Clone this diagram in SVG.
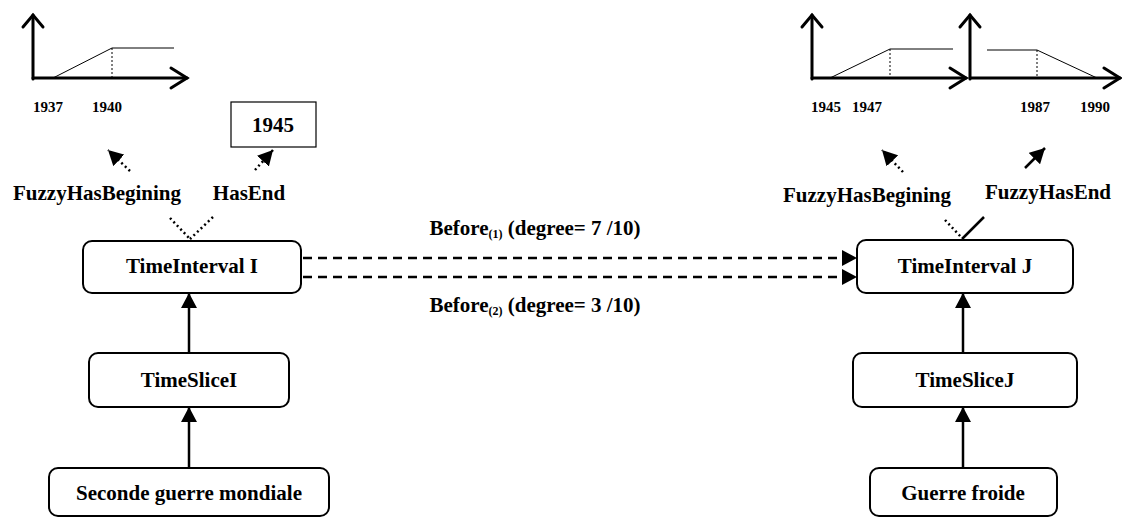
<svg xmlns="http://www.w3.org/2000/svg" width="1122" height="519" viewBox="0 0 1122 519">
<style>
text{font-family:"Liberation Serif","Times New Roman",serif;font-weight:bold;fill:#000;text-anchor:middle}
.lbl{font-size:21px}
.ax{font-size:15px}
.box{fill:#fff;stroke:#000;stroke-width:2}
.axis{fill:none;stroke:#000;stroke-width:3;stroke-linecap:round;stroke-linejoin:miter}
.thin{fill:none;stroke:#000;stroke-width:1}
.dot1{fill:none;stroke:#000;stroke-width:1;stroke-dasharray:2,2}
.conn{fill:none;stroke:#000;stroke-width:2.5}
.dash{stroke-dasharray:9,6}
.dotted{stroke-dasharray:2,3;stroke-width:2.5}
</style>
<defs>
<marker id="arr" viewBox="0 0 15 16" refX="15" refY="8" markerWidth="15" markerHeight="16" markerUnits="userSpaceOnUse" orient="auto">
<path d="M0,0 L15,8 L0,16 z" fill="#000"/>
</marker>
</defs>

<g id="chart-I">
<polyline class="axis" points="33,79 33,15"/>
<polyline class="axis" points="23,27 33,15 43,27"/>
<polyline class="axis" points="33,78 187,78"/>
<polyline class="axis" points="171,68 187,78 171,88"/>
<polyline class="thin" points="53,78 112,48 174,48"/>
<line class="dot1" x1="112" y1="48" x2="112" y2="78"/>
<text class="ax" x="48" y="112">1937</text>
<text class="ax" x="107" y="112">1940</text>
</g>

<g id="end-I">
<rect x="231" y="102" width="85" height="45" fill="#fff" stroke="#000" stroke-width="1.2"/>
<text class="lbl" x="273" y="132">1945</text>
</g>

<g id="chart-J1">
<polyline class="axis" points="812,79 812,15"/>
<polyline class="axis" points="802,27 812,15 822,27"/>
<polyline class="axis" points="812,78 966,78"/>
<polyline class="axis" points="950,68 966,78 950,88"/>
<polyline class="thin" points="830,78 890,49 953,49"/>
<line class="dot1" x1="890" y1="49" x2="890" y2="78"/>
<text class="ax" x="826" y="112">1945</text>
<text class="ax" x="867" y="112">1947</text>
</g>

<g id="chart-J2">
<polyline class="axis" points="970,79 970,15"/>
<polyline class="axis" points="960,27 970,15 980,27"/>
<polyline class="axis" points="970,78 1120,78"/>
<polyline class="axis" points="1104,68 1120,78 1104,88"/>
<polyline class="thin" points="987,50 1037,50 1097,78"/>
<line class="dot1" x1="1037" y1="50" x2="1037" y2="78"/>
<text class="ax" x="1035" y="112">1987</text>
<text class="ax" x="1095" y="112">1990</text>
</g>

<g id="ti-I">
<rect class="box" x="83" y="241" width="218" height="52" rx="9"/>
<text class="lbl" x="192" y="273">TimeInterval I</text>
</g>
<g id="ts-I">
<rect class="box" x="89" y="353" width="200" height="54" rx="9"/>
<text class="lbl" x="189" y="387">TimeSliceI</text>
</g>
<g id="sgm">
<rect class="box" x="49" y="468" width="280" height="48" rx="9"/>
<text class="lbl" x="189" y="500">Seconde guerre mondiale</text>
</g>

<g id="ti-J">
<rect class="box" x="857" y="240" width="216" height="53" rx="9"/>
<text class="lbl" x="965" y="273">TimeInterval J</text>
</g>
<g id="ts-J">
<rect class="box" x="853" y="353" width="224" height="54" rx="9"/>
<text class="lbl" x="965" y="387">TimeSliceJ</text>
</g>
<g id="gf">
<rect class="box" x="870" y="468" width="187" height="48" rx="9"/>
<text class="lbl" x="963" y="500">Guerre froide</text>
</g>

<g id="connectors">
<line class="conn" x1="189" y1="353" x2="189" y2="293" marker-end="url(#arr)"/>
<line class="conn" x1="189" y1="468" x2="189" y2="407" marker-end="url(#arr)"/>
<line class="conn" x1="963" y1="353" x2="963" y2="293" marker-end="url(#arr)"/>
<line class="conn" x1="963" y1="468" x2="963" y2="407" marker-end="url(#arr)"/>
<line class="conn dash" x1="303" y1="258" x2="857" y2="258" marker-end="url(#arr)"/>
<line class="conn dash" x1="303" y1="277" x2="857" y2="277" marker-end="url(#arr)"/>
<line class="conn dotted" x1="170" y1="218" x2="190" y2="239"/>
<line class="conn dotted" x1="213" y1="217" x2="190" y2="239"/>
<line class="conn dotted" x1="130" y1="171" x2="108" y2="150" marker-end="url(#arr)"/>
<line class="conn dotted" x1="255" y1="170" x2="273" y2="150" marker-end="url(#arr)"/>
<line class="conn dotted" x1="945" y1="220" x2="962" y2="238"/>
<line class="conn" x1="984" y1="217" x2="962" y2="239"/>
<line class="conn dotted" x1="903" y1="172" x2="882" y2="150" marker-end="url(#arr)"/>
<line class="conn" x1="1025" y1="168" x2="1045" y2="148" marker-end="url(#arr)"/>
<text class="lbl" x="97" y="200">FuzzyHasBegining</text>
<text class="lbl" x="249" y="200">HasEnd</text>
<text class="lbl" x="867" y="202">FuzzyHasBegining</text>
<text class="lbl" x="1048" y="199">FuzzyHasEnd</text>
<text class="lbl" x="535" y="235">Before<tspan font-size="12" dy="3">(1)</tspan><tspan dy="-3"> (degree= 7 /10)</tspan></text>
<text class="lbl" x="535" y="312">Before<tspan font-size="12" dy="3">(2)</tspan><tspan dy="-3"> (degree= 3 /10)</tspan></text>
</g>
</svg>
